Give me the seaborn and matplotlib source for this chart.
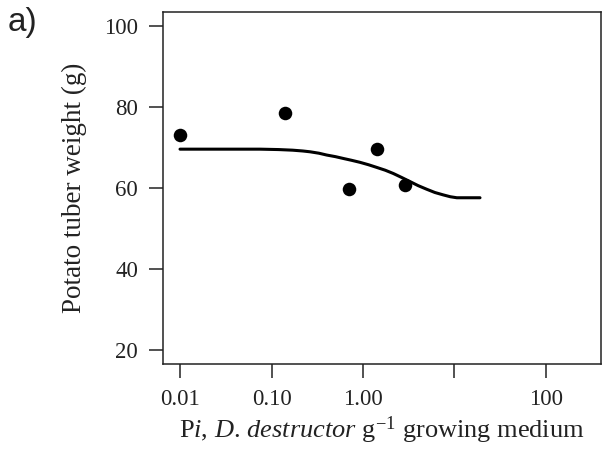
import matplotlib
matplotlib.use("Agg")
import matplotlib.pyplot as plt
import seaborn as sns
import pandas as pd

# Observed data
obs_density = [0.01, 0.14, 0.70, 1.42, 2.86]
obs_weight = [73.1, 78.6, 59.8, 69.6, 60.7]

# Fitted curve
curve_density = [0.01, 0.075, 0.12, 0.17, 0.22, 0.264, 0.33, 0.401, 0.50, 0.610, 0.75, 0.927,
                 1.15, 1.41, 1.75, 2.14, 2.65, 3.26, 4.0, 4.97, 6.1, 7.55, 9.0, 10.6, 19.0]
curve_weight = [69.6, 69.6, 69.5, 69.35, 69.15, 68.95, 68.6, 68.15, 67.75, 67.3, 66.85, 66.35,
                65.75, 65.1, 64.4, 63.6, 62.6, 61.6, 60.6, 59.7, 58.9, 58.3, 57.85, 57.6, 57.6]

xticks = [0.01, 0.1, 1, 10, 100]
xtick_labels = ["0.01", "0.10", "1.00", "", "100"]
yticks = [20, 40, 60, 80, 100]

sns.set_theme(style="ticks")
plt.rcParams["font.family"] = ["Liberation Serif", "DejaVu Serif"]
plt.rcParams["mathtext.fontset"] = "custom"
plt.rcParams["mathtext.rm"] = "Liberation Serif"
plt.rcParams["mathtext.it"] = "Liberation Serif:italic"

obs = pd.DataFrame({"x": obs_density, "y": obs_weight})
fit = pd.DataFrame({"x": curve_density, "y": curve_weight})

fig = plt.figure(figsize=(6.02, 4.61), dpi=100)
ax = fig.add_axes([0.2708, 0.2104, 0.7270, 0.7629])

sns.lineplot(data=fit, x="x", y="y", ax=ax, color="black", linewidth=2.2, sort=False)
sns.scatterplot(data=obs, x="x", y="y", ax=ax, color="black", s=95, edgecolor="black", linewidth=0, zorder=3)

ax.set_xscale("log")
ax.set_xlim(0.00652, 396)
ax.set_ylim(16.54, 103.4)
ax.set_xticks(xticks)
ax.set_xticklabels(xtick_labels)
ax.minorticks_off()
ax.set_yticks(yticks)

for sp in ax.spines.values():
    sp.set_linewidth(1.1)
    sp.set_color("#222222")

ax.tick_params(axis="both", which="major", direction="out", length=10, width=1.1,
               color="#222222", labelsize=16.5, labelcolor="#222222", pad=8)
ax.tick_params(axis="x", pad=8)

ax.set_xlabel(r"P$\mathit{i}$, $\mathit{D.\,destructor}$ g$^{\mathrm{-1}}$ growing medium",
              fontsize=19, color="#222222", labelpad=3.5)
ax.set_ylabel("Potato tuber weight (g)", fontsize=19.5, color="#222222", labelpad=12)

fig.text(0.013, 0.952, "a)", fontsize=24, family="Liberation Sans", ha="left", va="center", color="#222222")

fig.savefig("out.png", dpi=100)
